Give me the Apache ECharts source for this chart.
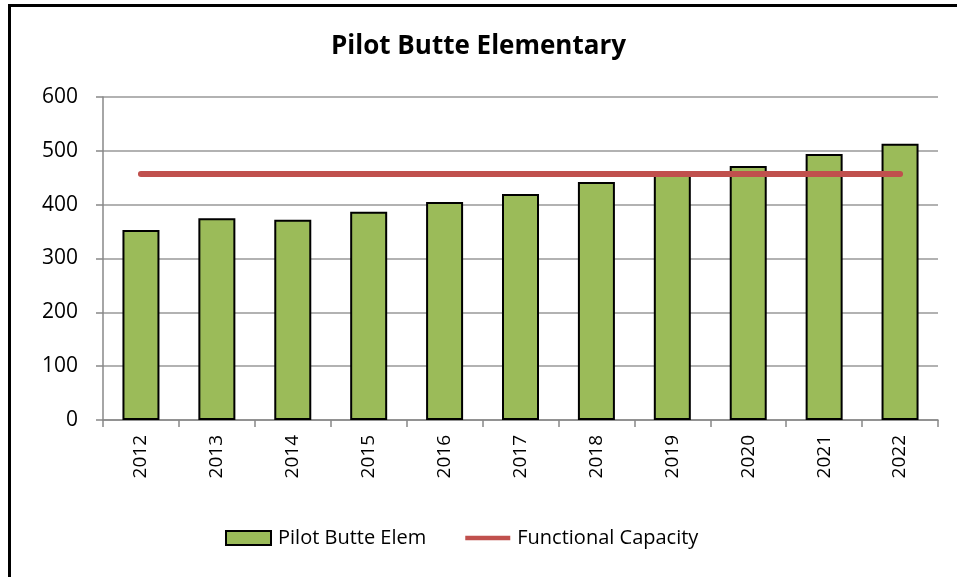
<!DOCTYPE html>
<html>
<head>
<meta charset="utf-8">
<script src="https://cdn.jsdelivr.net/npm/echarts@6/dist/echarts.min.js"></script>
<style>
  html, body { margin: 0; padding: 0; background: #fff; overflow: hidden; }
  .frame { position: absolute; left: 8px; top: 4px; width: 960px; height: 580px; border-left: 3px solid #000; border-top: 3px solid #000; box-sizing: border-box; }
  .charts { position: absolute; left: 0; top: 0; width: 957px; height: 577px; }
</style>
</head>
<body>
<div class="frame"></div>
<div class="charts" id="chart"></div>
<script>
const years = ["2012", "2013", "2014", "2015", "2016", "2017", "2018", "2019", "2020", "2021", "2022"];
const enrollment = [353, 375, 372, 387, 405, 420, 442, 457, 472, 494, 513];
const capacity = [457, 457, 457, 457, 457, 457, 457, 457, 457, 457, 457];
const yTicks = [0, 100, 200, 300, 400, 500, 600];

const myChart = echarts.init(document.getElementById("chart"));
const fontFamily = "'Open Sans', 'Liberation Sans', sans-serif";
const option = {
  animation: false,
  title: {
    text: "Pilot Butte Elementary",
    left: "center",
    top: 29,
    textStyle: { fontFamily: fontFamily, fontSize: 26, fontWeight: "bold", color: "#000" },
  },
  grid: { left: 103, right: 19, top: 97, bottom: 157 },
  legend: {
    bottom: 24,
    left: 220,
    itemGap: 39,
    itemWidth: 45,
    itemHeight: 14,
    textStyle: { fontFamily: fontFamily, fontSize: 20, color: "#000", padding: [0, 0, 0, 2] },
    data: [
      { name: "Pilot Butte Elem", icon: "rect" },
      { name: "Functional Capacity", icon: "path://M0,0H48V5H0Z" },
    ],
  },
  xAxis: {
    type: "category",
    data: years,
    axisLine: { lineStyle: { color: "#888", width: 1.5 } },
    axisTick: { show: true, length: 7, lineStyle: { color: "#888", width: 1.5 } },
    axisLabel: { rotate: 90, margin: 15, fontFamily: fontFamily, fontSize: 19, color: "#000" },
  },
  yAxis: {
    type: "value",
    min: yTicks[0],
    max: yTicks[yTicks.length - 1],
    interval: 100,
    axisLine: { show: true, lineStyle: { color: "#888", width: 1.5 } },
    axisTick: { show: true, length: 7, lineStyle: { color: "#888", width: 1.5 } },
    splitLine: { lineStyle: { color: "#999", width: 1.5 } },
    axisLabel: { margin: 25, fontFamily: fontFamily, fontSize: 21, color: "#000" },
  },
  series: [
    {
      name: "Pilot Butte Elem",
      type: "bar",
      barWidth: 37,
      data: enrollment,
      itemStyle: { color: "#9bbb59", borderColor: "#000", borderWidth: 2 },
    },
    {
      name: "Functional Capacity",
      type: "line",
      data: capacity,
      symbol: "none",
      lineStyle: { color: "#c0504d", width: 6, cap: "round" },
      itemStyle: { color: "#c0504d" },
    },
  ],
};
myChart.setOption(option);
</script>
</body>
</html>
